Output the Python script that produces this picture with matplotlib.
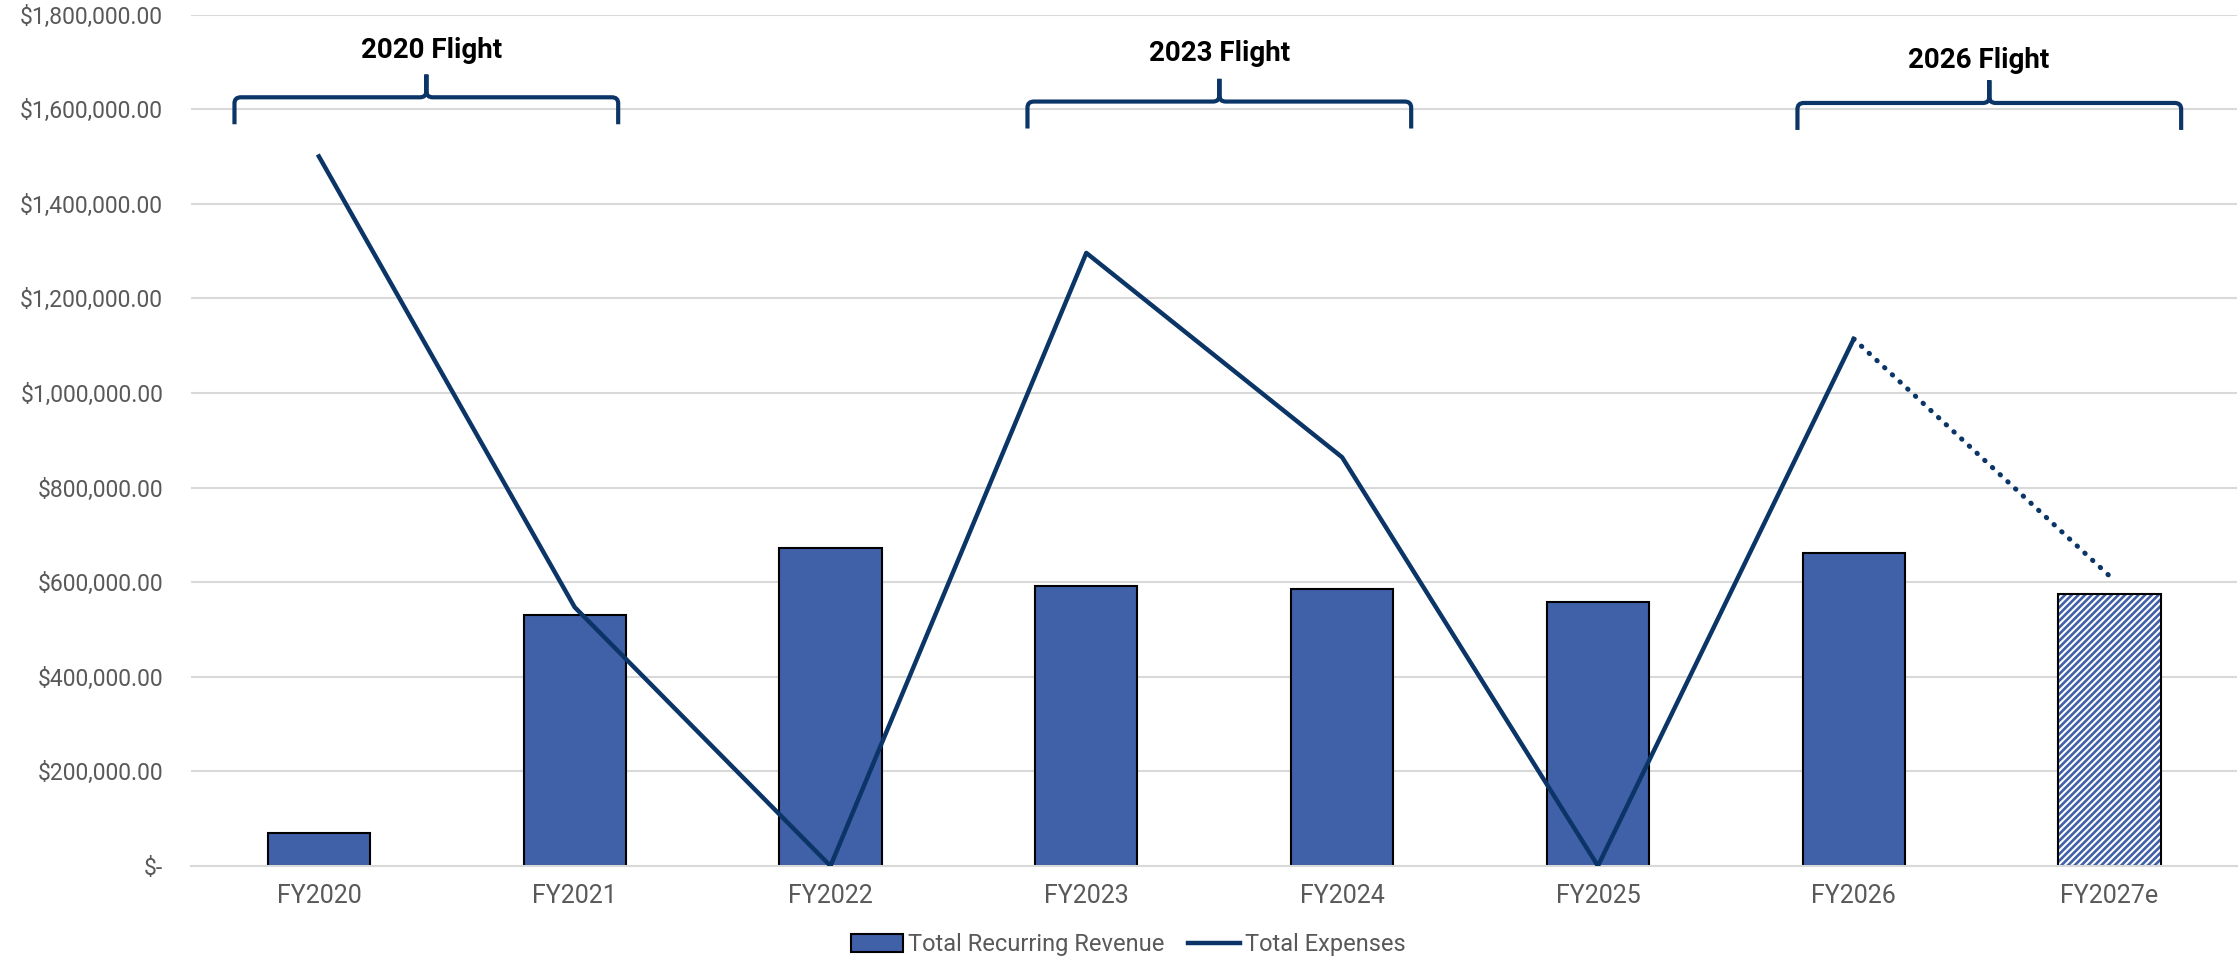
import matplotlib.pyplot as plt
from matplotlib.path import Path
from matplotlib.patches import PathPatch
from matplotlib.ticker import FuncFormatter

plt.rcParams["font.family"] = ["Roboto", "DejaVu Sans"]
plt.rcParams["hatch.linewidth"] = 1.9

years = ["FY2020", "FY2021", "FY2022", "FY2023", "FY2024", "FY2025", "FY2026", "FY2027e"]
revenue = [70000, 531000, 673000, 592000, 586000, 559000, 661000, 574000]
expenses = [1500000, 547000, 0, 1296000, 864000, 0, 1114000]
expense_estimate = 613000
flights = ["2020 Flight", "2023 Flight", "2026 Flight"]

BAR = "#4060A8"
LINE = "#0B3567"
GRID = "#D9D9D9"
TXT = "#595959"

fig = plt.figure(figsize=(22.39, 9.61), dpi=100)
ax = fig.add_axes([0.0853, 0.0989, 0.914, 0.886])

x = list(range(len(years)))

# actual years: solid bars
bars = ax.bar(x[:-1], revenue[:-1], width=0.4, color=BAR, edgecolor="black",
              linewidth=1.5, zorder=2, label="Total Recurring Revenue")
# estimate year: hatched bar with black outline
ax.bar(x[-1], revenue[-1], width=0.4, color="white", edgecolor=BAR, hatch="/////",
       linewidth=0, zorder=2)
ax.bar(x[-1], revenue[-1], width=0.4, fill=False, edgecolor="black", linewidth=1.5, zorder=2)

line, = ax.plot(x[:len(expenses)], expenses, color=LINE, lw=3.2, zorder=3,
                label="Total Expenses")
ax.plot([x[len(expenses) - 1], x[-1]], [expenses[-1], expense_estimate], color=LINE,
        lw=3.6, linestyle=(0, (0.1, 2.0)), dash_capstyle="round", zorder=3)

ax.set_xlim(-0.5, 7.5)
ax.set_ylim(0, 1800000)
ax.set_yticks(range(0, 1800001, 200000))
ax.yaxis.set_major_formatter(FuncFormatter(lambda v, p: "$-" if v == 0 else f"${v:,.2f}"))
ax.set_xticks(x)
ax.set_xticklabels(years)
ax.tick_params(axis="y", length=0, labelsize=16.5, labelcolor=TXT, pad=20)
ax.tick_params(axis="x", length=0, labelsize=18, labelcolor=TXT, pad=13)
ax.grid(axis="y", color=GRID, lw=1.5, zorder=0)
ax.set_axisbelow(True)
for s in ["top", "right", "left"]:
    ax.spines[s].set_visible(False)
ax.spines["bottom"].set_color(GRID)
ax.spines["bottom"].set_linewidth(1.5)


def brace(x0, x1, y, tip=57000, peak=48000, rx=0.025, ry=13000):
    xc = (x0 + x1) / 2
    verts = [(x0, y - tip), (x0, y - ry), (x0, y), (x0 + rx, y),
             (xc - rx, y), (xc, y), (xc, y + ry), (xc, y + peak),
             (xc, y + ry), (xc, y), (xc + rx, y),
             (x1 - rx, y), (x1, y), (x1, y - ry), (x1, y - tip)]
    codes = [Path.MOVETO, Path.LINETO, Path.CURVE3, Path.CURVE3,
             Path.LINETO, Path.CURVE3, Path.CURVE3, Path.LINETO,
             Path.LINETO, Path.CURVE3, Path.CURVE3,
             Path.LINETO, Path.CURVE3, Path.CURVE3, Path.LINETO]
    ax.add_patch(PathPatch(Path(verts, codes), fill=False, edgecolor=LINE,
                           lw=3.0, capstyle="butt", zorder=4))


brace_spans = [(-0.33, 1.17, 1625000), (2.77, 4.27, 1616000), (5.78, 7.28, 1613000)]
label_pos = [(0.44, 1724000), (3.52, 1718000), (6.49, 1703000)]
for name, (x0, x1, yb), (lx, ly) in zip(flights, brace_spans, label_pos):
    brace(x0, x1, yb)
    ax.text(lx, ly, name, ha="center", va="center", fontsize=20, fontweight="bold",
            color="black")

fig.legend([bars, line], ["Total Recurring Revenue", "Total Expenses"],
           loc="center", bbox_to_anchor=(0.504, 0.017), ncol=2, frameon=False,
           fontsize=17, labelcolor=TXT, handlelength=2.2, handleheight=0.8,
           handletextpad=0.2, columnspacing=1.0)

fig.savefig("out.png", dpi=100)
